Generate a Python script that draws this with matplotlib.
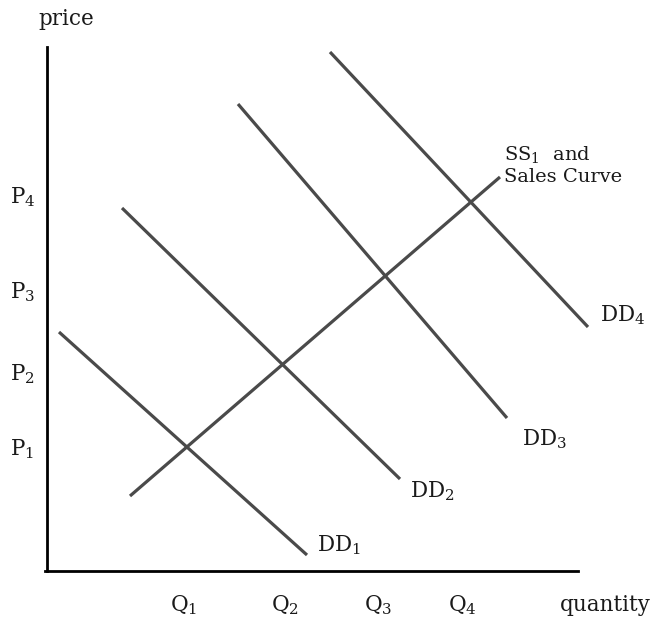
import matplotlib
matplotlib.use("Agg")
import matplotlib.pyplot as plt

# curve end points (pixel coordinates, y down)
dd_names = ["DD$_1$", "DD$_2$", "DD$_3$", "DD$_4$"]
dd_x = [(59, 307), (122, 400), (238, 507), (330, 588)]
dd_y = [(332, 555), (208, 479), (104, 418), (52, 327)]
dd_label_pos = [(317, 545), (410, 491), (522, 439), (600, 315)]

ss_x = [130, 500]
ss_y = [496, 177]

p_labels = ["P$_1$", "P$_2$", "P$_3$", "P$_4$"]
p_y = [449, 374, 292, 197]
q_labels = ["Q$_1$", "Q$_2$", "Q$_3$", "Q$_4$"]
q_x = [184, 285, 378, 462]

plt.rcParams['font.family'] = ['DejaVu Serif']
plt.rcParams['mathtext.fontset'] = 'dejavuserif'

fig = plt.figure(figsize=(6.68, 6.36), dpi=100)
ax = fig.add_axes([0, 0, 1, 1])
ax.set_xlim(0, 668)
ax.set_ylim(636, 0)
ax.axis("off")

line_col = "#4a4a4a"
txt_col = "#1a1a1a"

# axes
ax.plot([47, 47], [47, 571], color="black", lw=2.0)
ax.plot([45, 578], [571, 571], color="black", lw=2.0)

for xs, ys in zip(dd_x, dd_y):
    ax.plot(xs, ys, color=line_col, lw=2.3, solid_capstyle="butt")
ax.plot(ss_x, ss_y, color=line_col, lw=2.3, solid_capstyle="butt")

for name, (lx, ly) in zip(dd_names, dd_label_pos):
    ax.text(lx, ly, name, fontsize=15.5, ha="left", va="center", color=txt_col)

ax.text(504, 165, "SS$_1$  and\nSales Curve", fontsize=14, ha="left", va="center",
        color=txt_col, linespacing=1.2)

for lab, y in zip(p_labels, p_y):
    ax.text(10, y, lab, fontsize=15.5, ha="left", va="center", color=txt_col)
for lab, x in zip(q_labels, q_x):
    ax.text(x, 605, lab, fontsize=15.5, ha="center", va="center", color=txt_col)

ax.text(66, 19, "price", fontsize=15.5, ha="center", va="center", color=txt_col)
ax.text(605, 605, "quantity", fontsize=15.5, ha="center", va="center", color=txt_col)

fig.savefig("out.png", dpi=100)
